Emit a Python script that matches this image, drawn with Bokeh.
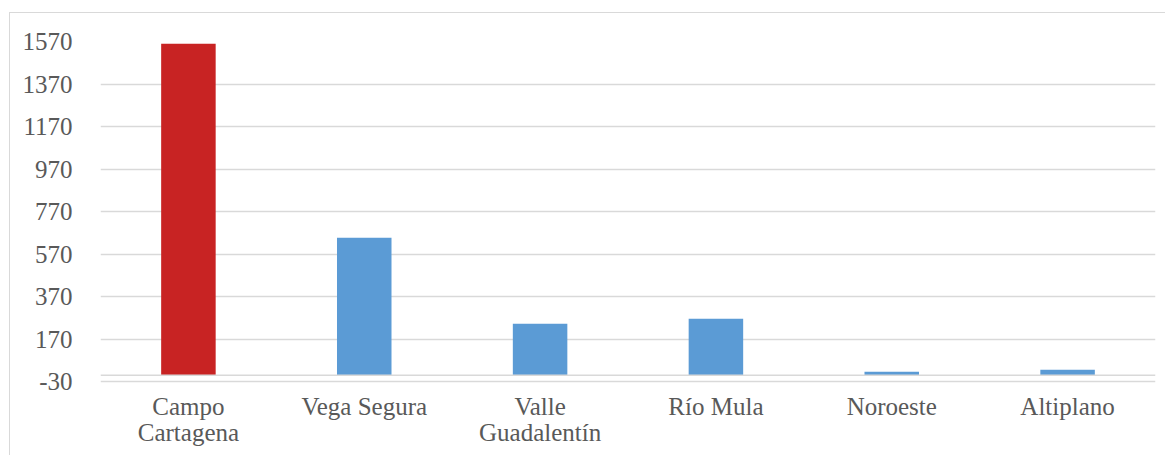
from bokeh.plotting import figure
from bokeh.models import FixedTicker, Span, Range1d, ColumnDataSource
from bokeh.core.properties import value
from bokeh.embed import file_html
from bokeh.resources import INLINE

# Comarcas and their values
regions = ["Campo Cartagena", "Vega Segura", "Valle Guadalentín", "Río Mula", "Noroeste", "Altiplano"]
values = [1560, 647, 243, 266, 17, 26]
bar_colors = ["#C82323", "#5B9BD5", "#5B9BD5", "#5B9BD5", "#5B9BD5", "#5B9BD5"]
tick_labels = ["Campo\nCartagena", "Vega Segura", "Valle\nGuadalentín", "Río Mula", "Noroeste", "Altiplano"]
y_ticks = [-30, 170, 370, 570, 770, 970, 1170, 1370, 1570]

FONT = "Liberation Serif"
TEXT = "#595959"
GRID = "#D9D9D9"

W, H = 1156, 443
BORDER = 1.5
TOP, LEFT, RIGHT = 28, 90, 11
GRID_SPAN_PX = 339          # pixel distance between lowest and highest gridline
frame_px = H - BORDER - TOP
units_per_px = (y_ticks[-1] - y_ticks[0]) / GRID_SPAN_PX
# the frame runs down to the bottom edge so the category names fit inside it
y_start = y_ticks[-1] - frame_px * units_per_px

p = figure(
    x_range=regions, y_range=Range1d(y_start, y_ticks[-1]),
    width=W, height=H,
    output_backend="svg", toolbar_location=None,
    min_border_left=LEFT, min_border_right=RIGHT, min_border_top=TOP, min_border_bottom=0,
)
p.margin = (12, 0, 0, 9)
p.styles = {"border-top": f"{BORDER}px solid {GRID}", "border-left": f"{BORDER}px solid {GRID}",
            "box-sizing": "border-box"}
p.outline_line_color = None
p.background_fill_color = "white"
p.border_fill_color = "white"

p.vbar(x=regions, top=values, bottom=0, width=0.31, fill_color=bar_colors, line_color=None)

# Horizontal category axis drawn at zero
p.add_layout(Span(location=0, dimension="width", line_color=GRID, line_width=1.5))

p.xgrid.grid_line_color = None
p.ygrid.ticker = FixedTicker(ticks=y_ticks)
p.ygrid.grid_line_color = GRID
p.ygrid.grid_line_width = 1.5

p.yaxis.ticker = FixedTicker(ticks=y_ticks)
p.yaxis.axis_line_color = None
p.yaxis.major_tick_line_color = None
p.yaxis.minor_tick_line_color = None
p.yaxis.major_label_standoff = 22
p.yaxis.major_label_text_font = FONT
p.yaxis.major_label_text_font_size = "25px"
p.yaxis.major_label_text_color = TEXT
p.yaxis.major_label_overrides = {t: str(t) for t in y_ticks}

p.xaxis.visible = False

# Category names under the lowest gridline, wrapped onto two lines where needed
src = ColumnDataSource(dict(x=regions, y=[y_ticks[0]] * len(regions), text=tick_labels))
p.text(x="x", y="y", text="text", source=src, y_offset=11,
       text_font=value(FONT), text_font_size="25px", text_color=TEXT,
       text_align="center", text_baseline="top", text_line_height=0.97)

open("out.html", "w").write(file_html(p, INLINE))
